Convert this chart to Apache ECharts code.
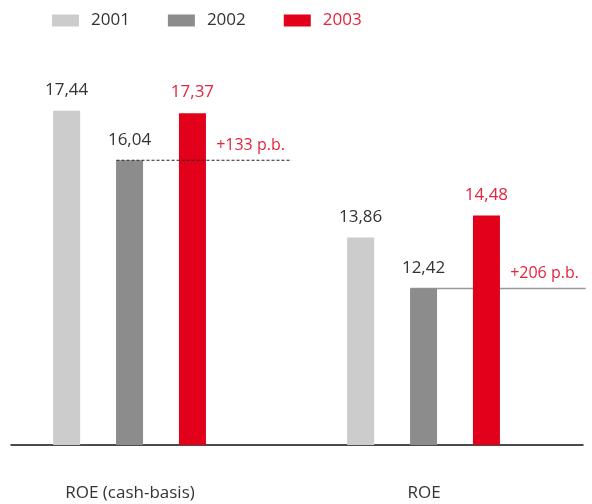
<!DOCTYPE html>
<html>
<head>
<meta charset="utf-8">
<script src="https://cdn.jsdelivr.net/npm/echarts@6/dist/echarts.min.js"></script>
<style>
  html, body { margin: 0; padding: 0; background: #fff; }
  #main { width: 592px; height: 504px; }
</style>
</head>
<body>
<div id="main"></div>
<script>
// 数据
var categories = ['ROE (cash-basis)', 'ROE'];
var years = ['2001', '2002', '2003'];
var values2001 = [17.44, 13.86];
var values2002 = [16.04, 12.42];
var values2003 = [17.37, 14.48];
var deltaLabels = ['+133 p.b.', '+206 p.b.'];

var RED = '#e2001a';
var RED_TEXT = '#e5233d';
var FONT = '"Open Sans", sans-serif';

(function () {
    // 1.初始化echarts实例对象
    var myChart = echarts.init(document.getElementById('main'));

    function fmt(p) {
        return p.value.toFixed(2).replace('.', ',');
    }

    function barSeries(name, data, color, labelColor) {
        return {
            name: name,
            type: 'bar',
            data: data,
            barWidth: 27,
            barGap: '133%',
            itemStyle: { color: color },
            label: {
                show: true,
                position: 'top',
                distance: 12,
                formatter: fmt,
                color: labelColor,
                fontFamily: FONT,
                fontSize: 17
            }
        };
    }

    // 增长标注（虚线/实线 + 文字）
    var deltaData = categories.map(function (c, i) {
        return [i, values2002[i], deltaLabels[i]];
    });

    // 2.指定配置项与数据
    var option = {
        animation: false,
        legend: {
            data: [
                { name: '2001' },
                { name: '2002' },
                { name: '2003', textStyle: { color: RED_TEXT } }
            ],
            left: 52,
            top: 12,
            padding: 0,
            itemWidth: 27,
            itemHeight: 12,
            itemGap: 38,
            icon: 'rect',
            textStyle: {
                color: '#333',
                fontFamily: FONT,
                fontSize: 17,
                padding: [0, 0, 0, 7]
            }
        },
        grid: [
            // 柱子所在网格
            { left: 1, right: 3, top: 20, bottom: 59 },
            // 底部轴线网格
            { left: 11, right: 9, top: 20, bottom: 59 }
        ],
        xAxis: [{
            type: 'category',
            gridIndex: 0,
            data: categories,
            axisLine: { show: false },
            axisTick: { show: false },
            axisLabel: {
                margin: 40,
                padding: [0, 36, 0, 0], // 标签跟随柱组向左偏
                color: '#333',
                fontFamily: FONT,
                fontSize: 17
            }
        }, {
            type: 'category',
            gridIndex: 1,
            data: categories,
            axisLine: { lineStyle: { color: '#111', width: 1.5 } },
            axisTick: { show: false },
            axisLabel: { show: false }
        }],
        yAxis: [{
            type: 'value',
            gridIndex: 0,
            min: 8,
            max: 20,
            show: false
        }, {
            type: 'value',
            gridIndex: 1,
            min: 8,
            max: 20,
            show: false
        }],
        series: [
            barSeries('2001', values2001, '#cccccc', '#333'),
            barSeries('2002', values2002, '#8c8c8c', '#333'),
            barSeries('2003', values2003, RED, RED_TEXT),
            // 空的占位柱，让每组柱子略向左偏
            {
                name: 'spacer',
                type: 'bar',
                data: [null, null],
                barWidth: 0.01,
                barGap: '133%',
                silent: true
            },
            {
                type: 'custom',
                data: deltaData,
                clip: false,
                renderItem: function (params, api) {
                    var i = params.dataIndex;
                    var p = api.coord([api.value(0), api.value(1)]);
                    var band = api.size([1, 0])[0];
                    var x1 = p[0] - 13.5 - 18;
                    var x2 = p[0] + band * 0.55 - 18;
                    return {
                        type: 'group',
                        children: [{
                            type: 'line',
                            z2: i === 0 ? 10 : -10,
                            shape: { x1: x1, y1: p[1], x2: x2, y2: p[1] },
                            style: i === 0
                                ? { stroke: '#222', lineWidth: 1, lineDash: [3, 2] }
                                : { stroke: '#999', lineWidth: 1.5 }
                        }, {
                            type: 'text',
                            z2: 10,
                            x: p[0] + band * 0.41 - 18,
                            y: p[1] - 15,
                            style: {
                                text: deltaData[i][2],
                                fill: RED_TEXT,
                                font: '16px ' + FONT,
                                textAlign: 'center',
                                textVerticalAlign: 'middle'
                            }
                        }]
                    };
                }
            }
        ]
    };

    // 3.将配置项设置给echarts实例对象
    myChart.setOption(option);
})();
</script>
</body>
</html>
